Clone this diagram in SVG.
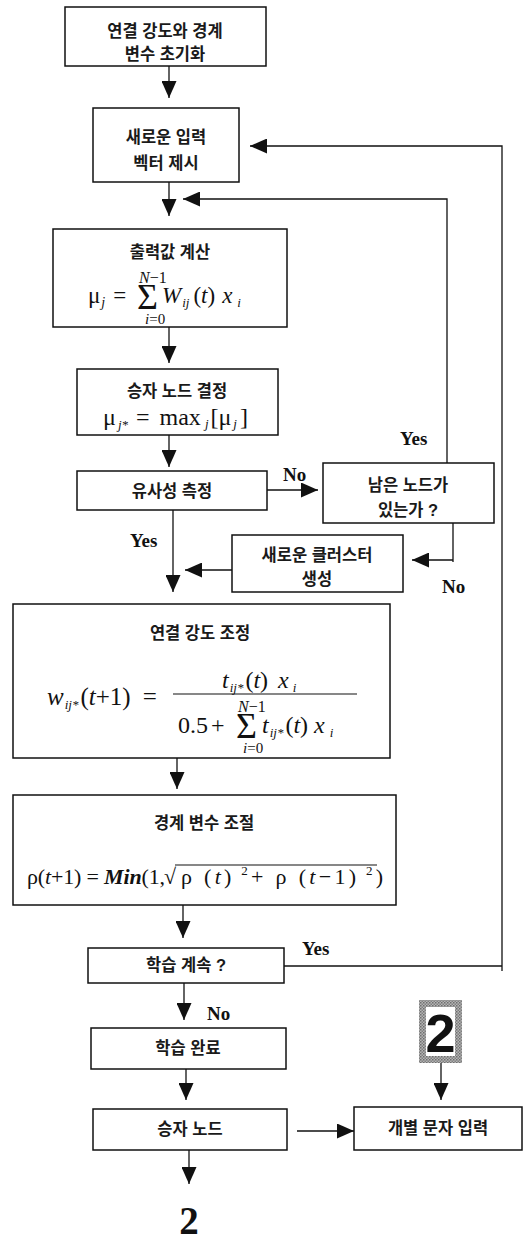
<svg xmlns="http://www.w3.org/2000/svg" width="526" height="1240" viewBox="0 0 526 1240">
<defs>
<style>
.box{fill:#fff;stroke:#111;stroke-width:1.5}
.ko{font-family:"Liberation Sans","Noto Sans CJK KR",sans-serif;font-size:16.5px;font-weight:bold;fill:#1a1a1a;text-anchor:middle}
.lbl{font-family:"Liberation Serif",serif;font-weight:bold;font-size:19px;fill:#111}
.m{font-family:"Liberation Serif",serif;fill:#111}
.it{font-style:italic}
.con{fill:none;stroke:#111;stroke-width:1.3}
</style>
<marker id="ah" viewBox="0 0 17 15" refX="17" refY="7.5" markerWidth="17" markerHeight="15" markerUnits="userSpaceOnUse" orient="auto">
<path d="M0,0 L17,7.5 L0,15 z" fill="#111"/>
</marker>
<pattern id="dots" width="3" height="3" patternUnits="userSpaceOnUse">
<rect width="3" height="3" fill="#b5b5b5"/>
<rect width="1.5" height="1.5" fill="#6e6e6e"/>
<rect x="1.5" y="1.5" width="1.5" height="1.5" fill="#808080"/>
</pattern>
</defs>

<g id="connectors">
<path class="con" marker-end="url(#ah)" d="M169,66 V98"/>
<path class="con" marker-end="url(#ah)" d="M169,182 V216"/>
<path class="con" marker-end="url(#ah)" d="M169,327 V363"/>
<path class="con" marker-end="url(#ah)" d="M169,435 V467"/>
<path class="con" marker-end="url(#ah)" d="M267,490 H318"/>
<path class="con" marker-end="url(#ah)" d="M447,463 V199 H183"/>
<path class="con" marker-end="url(#ah)" d="M453,523 V562 M453,560 H412"/>
<path class="con" marker-end="url(#ah)" d="M232,570 H185"/>
<path class="con" marker-end="url(#ah)" d="M173,510 V592"/>
<path class="con" marker-end="url(#ah)" d="M177,758 V789"/>
<path class="con" marker-end="url(#ah)" d="M183,905 V938"/>
<path class="con" d="M284,966 H502"/>
<path class="con" marker-end="url(#ah)" d="M502,971 V146 H250"/>
<path class="con" marker-end="url(#ah)" d="M184,983 V1020"/>
<path class="con" marker-end="url(#ah)" d="M186,1069 V1100"/>
<path class="con" marker-end="url(#ah)" d="M189,1150 V1184"/>
<path class="con" marker-end="url(#ah)" d="M297,1131 H354"/>
<path class="con" marker-end="url(#ah)" d="M441,1063 V1100"/>
</g>

<g id="labels">
<text class="lbl" x="283" y="481">No</text>
<text class="lbl" x="400" y="445">Yes</text>
<text class="lbl" x="442" y="593">No</text>
<text class="lbl" x="130" y="547">Yes</text>
<text class="lbl" x="302" y="955">Yes</text>
<text class="lbl" x="207" y="1020">No</text>
</g>

<g id="n1">
<rect class="box" x="65" y="7" width="201" height="59"/>
<text class="ko" x="165" y="37">연결 강도와 경계</text>
<text class="ko" x="165" y="60">변수 초기화</text>
</g>

<g id="n2">
<rect class="box" x="93" y="108" width="146" height="74"/>
<text class="ko" x="166" y="143">새로운 입력</text>
<text class="ko" x="166" y="169">벡터 제시</text>
</g>

<g id="n3">
<rect class="box" x="53" y="229" width="234" height="98"/>
<text class="ko" x="170" y="258">출력값 계산</text>
<text class="m" x="88" y="303" font-size="23">μ<tspan class="it" font-size="14" dx="1" dy="4">j</tspan><tspan dx="8" dy="-4">=</tspan></text>
<text class="m" x="137" y="309" font-size="36">Σ</text>
<text class="m" x="139" y="283" font-size="16"><tspan class="it">N</tspan>−1</text>
<text class="m" x="145" y="324" font-size="15"><tspan class="it">i</tspan>=0</text>
<text class="m" x="162" y="303" font-size="23"><tspan class="it">W</tspan><tspan class="it" font-size="13" dy="4" dx="1">ij</tspan><tspan dy="-4" dx="4">(</tspan><tspan class="it">t</tspan>)<tspan class="it" dx="7">x</tspan><tspan class="it" font-size="13" dy="4" dx="5">i</tspan></text>
</g>

<g id="n4">
<rect class="box" x="77" y="369" width="201" height="66"/>
<text class="ko" x="177" y="397">승자 노드 결정</text>
<text class="m" x="103" y="425" font-size="24">μ<tspan class="it" font-size="13" dx="2" dy="4">j*</tspan><tspan dx="8" dy="-4">=</tspan><tspan dx="10">max</tspan><tspan class="it" font-size="13" dx="4" dy="3">j</tspan><tspan dx="2" dy="-3">[μ</tspan><tspan class="it" font-size="13" dx="2" dy="3">j</tspan><tspan dx="3" dy="-3">]</tspan></text>
</g>

<g id="n5">
<rect class="box" x="77" y="471" width="190" height="39"/>
<text class="ko" x="172" y="497">유사성 측정</text>
</g>

<g id="n6">
<rect class="box" x="323" y="463" width="171" height="60"/>
<text class="ko" x="408" y="491">남은 노드가</text>
<text class="ko" x="408" y="516">있는가 ?</text>
</g>

<g id="n7">
<rect class="box" x="232" y="535" width="171" height="57"/>
<text class="ko" x="317" y="561">새로운 클러스터</text>
<text class="ko" x="317" y="585">생성</text>
</g>

<g id="n8">
<rect class="box" x="13" y="604" width="377" height="154"/>
<text class="ko" x="200" y="639">연결 강도 조정</text>
<text class="m" x="47" y="705" font-size="25"><tspan class="it">w</tspan><tspan class="it" font-size="13" dx="1" dy="4">ij*</tspan><tspan dx="2" dy="-4">(</tspan><tspan class="it">t</tspan>+1)<tspan dx="12">=</tspan></text>
<line x1="173" y1="694" x2="357" y2="694" stroke="#111" stroke-width="1.2"/>
<text class="m" x="222" y="688" font-size="24"><tspan class="it">t</tspan><tspan class="it" font-size="13" dx="1" dy="4">ij*</tspan><tspan dx="2" dy="-4">(</tspan><tspan class="it">t</tspan>)<tspan class="it" dx="10">x</tspan><tspan class="it" font-size="13" dx="4" dy="4">i</tspan></text>
<text class="m" x="178" y="733" font-size="24">0.5<tspan dx="3">+</tspan></text>
<text class="m" x="236" y="738" font-size="36">Σ</text>
<text class="m" x="238" y="712" font-size="16"><tspan class="it">N</tspan>−1</text>
<text class="m" x="243" y="753" font-size="15"><tspan class="it">i</tspan>=0</text>
<text class="m" x="262" y="733" font-size="24"><tspan class="it">t</tspan><tspan class="it" font-size="13" dx="1" dy="4">ij*</tspan><tspan dx="2" dy="-4">(</tspan><tspan class="it">t</tspan>)<tspan class="it" dx="6">x</tspan><tspan class="it" font-size="13" dx="5" dy="4">i</tspan></text>
</g>

<g id="n9">
<rect class="box" x="13" y="795" width="383" height="110"/>
<text class="ko" x="204" y="829">경계 변수 조절</text>
<text class="m" x="27" y="884" font-size="22" textLength="138" lengthAdjust="spacing">ρ(<tspan class="it">t</tspan>+1) = <tspan class="it" font-weight="bold">Min</tspan>(1,</text>
<text class="m" x="164" y="884" font-size="22">√</text>
<line x1="175" y1="865" x2="377" y2="865" stroke="#111" stroke-width="1.2"/>
<text class="m" x="181" y="884" font-size="22" textLength="202" lengthAdjust="spacing">ρ (<tspan class="it">t</tspan>)<tspan font-size="13" dy="-9"> 2</tspan><tspan dy="9">+ ρ (</tspan><tspan class="it">t</tspan>−1)<tspan font-size="13" dy="-9"> 2</tspan><tspan dy="9">)</tspan></text>
</g>

<g id="n10">
<rect class="box" x="88" y="948" width="196" height="35"/>
<text class="ko" x="186" y="971">학습 계속 ?</text>
</g>

<g id="n11">
<rect class="box" x="91" y="1028" width="195" height="41"/>
<text class="ko" x="188" y="1054">학습 완료</text>
</g>

<g id="n12">
<rect class="box" x="93" y="1109" width="194" height="41"/>
<text class="ko" x="190" y="1135">승자 노드</text>
</g>

<g id="n13">
<rect class="box" x="354" y="1107" width="168" height="43"/>
<text class="ko" x="438" y="1134">개별 문자 입력</text>
</g>

<g id="n14">
<rect x="419" y="1000" width="43" height="63" fill="url(#dots)"/>
<rect x="426" y="1007" width="29" height="49" fill="#fff"/>
<text x="440.5" y="1052" font-family="Liberation Sans, sans-serif" font-weight="bold" font-size="54" text-anchor="middle" fill="#111">2</text>
</g>

<g id="n15">
<text x="189" y="1234" font-family="Liberation Serif, serif" font-weight="bold" font-size="39" text-anchor="middle" fill="#111">2</text>
</g>
</svg>
